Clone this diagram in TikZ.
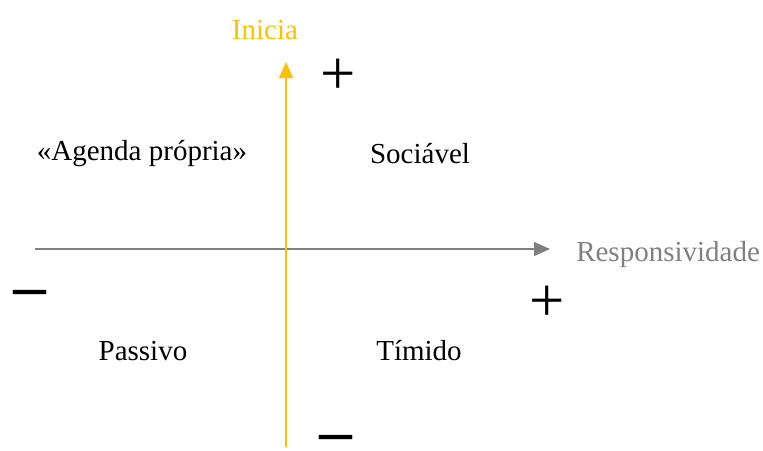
\documentclass[tikz,border=0pt]{standalone}
\usepackage{fontspec}
\setmainfont{Liberation Serif}
\usetikzlibrary{arrows.meta}
\definecolor{axyellow}{RGB}{255,192,0}
\definecolor{axgray}{RGB}{128,128,128}
\tikzset{
  lbl/.style={font=\fontsize{21.75pt}{24pt}\selectfont, inner sep=0pt},
  plussign/.style={font=\fontsize{47pt}{49pt}\selectfont, inner sep=0pt},
  minussign/.style={font=\fontsize{24.75pt}{26pt}\selectfont, inner sep=0pt},
  axis/.style={line width=1.5pt, -{Triangle[length=12pt,width=10.5pt]}}
}
\begin{document}
\begin{tikzpicture}[x=0.75pt,y=-0.75pt]
\useasboundingbox (0,0) rectangle (763,450);
\coordinate (ybot) at (286,447);
\coordinate (ytop) at (286,62);
\coordinate (xl) at (35,249);
\coordinate (xr) at (550,249);
\draw[axis, axgray, line width=1.1pt] (xl) -- (xr);
\draw[axis, axyellow] (ybot) -- (ytop);
\node[lbl, text=axyellow] (inicia) at (265,30) {Inicia};
\node[lbl, text=axgray, anchor=west] (resp) at (576,255) {Responsividade};
\node[lbl] (agenda) at (142,154) {«Agenda própria»};
\node[lbl] (social) at (420,154) {Sociável};
\node[lbl] (passivo) at (143,351) {Passivo};
\node[lbl] (timido) at (419,351) {Tímido};
\node[plussign] (p1) at (338,77) {+};
\node[plussign] (p2) at (547,304) {+};
\node[minussign] (m1) at (30,301) {\scalebox{1}[2.6]{—}};
\node[minussign] (m2) at (336,446) {\scalebox{1}[2.6]{—}};
\end{tikzpicture}
\end{document}
